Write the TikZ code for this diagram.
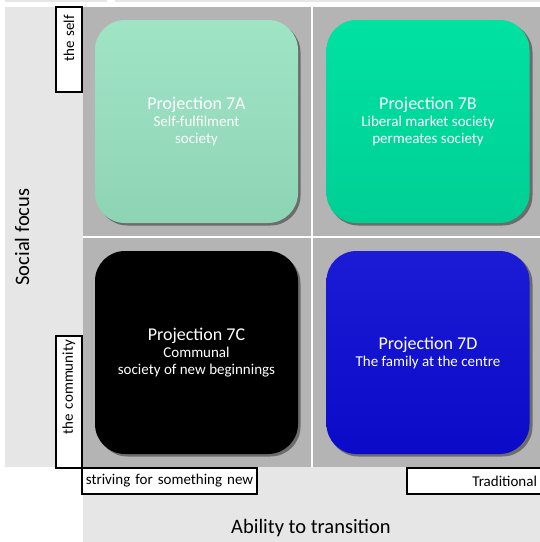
\documentclass[tikz,border=0pt]{standalone}
\usepackage{fontspec}
\setmainfont{Carlito}
\definecolor{lightg}{HTML}{E6E6E6}
\definecolor{midg}{HTML}{B4B4B4}
\definecolor{cardA}{HTML}{A0E4C6}
\definecolor{cardAb}{HTML}{8DD4B5}
\definecolor{cardB}{HTML}{00E2A2}
\definecolor{cardBb}{HTML}{00CF94}
\definecolor{cardD}{HTML}{1C1CD6}
\definecolor{cardDb}{HTML}{0A0AC8}
\newcommand{\ttlfont}{\fontsize{18}{19}\selectfont}
\newcommand{\subfont}{\fontsize{15}{17}\selectfont}
\tikzset{
  card/.style={rounded corners=30pt, minimum width=203pt, minimum height=203pt,
    align=center, text=white, inner sep=0pt, font=\subfont},
  cardshadow/.style={rounded corners=30pt, fill=black, opacity=0.4},
  lbl/.style={draw=black, line width=2pt, fill=white, inner sep=0pt,
    font=\fontsize{15}{17}\selectfont},
  axislbl/.style={font=\fontsize{20.5}{22}\selectfont, inner sep=0pt}
}
\begin{document}
\begin{tikzpicture}[x=1pt,y=-1pt]
\useasboundingbox (0,0) rectangle (540,542);
\fill[white] (0,0) rectangle (540,542);
% thin top strip
\fill[lightg] (5,0) rectangle (107,2);
\fill[lightg] (115,0) rectangle (540,2);
% panels
\fill[lightg] (5,7) rectangle (83,467);
\fill[midg] (83,7) rectangle (540,467);
\fill[lightg] (83,467) rectangle (540,542);
\draw[white, line width=1.5pt] (312,7) -- (312,467);
\draw[white, line width=1.5pt] (83,237) -- (540,237);
% shadows
\fill[cardshadow] (97.5,22.5) rectangle (300.5,225.5);
\fill[cardshadow] (328.5,22.5) rectangle (532.5,225.5);
\fill[cardshadow] (97.5,253.5) rectangle (300.5,456.5);
\fill[cardshadow] (328.5,253.5) rectangle (532.5,456.5);
% cards
\node[card, top color=cardA, bottom color=cardAb] (a) at (196.5,121.5)
  {\ttlfont Projection 7A\\\subfont Self-fulfilment\\society};
\node[card, top color=cardB, bottom color=cardBb] (b) at (428,121.5)
  {\ttlfont Projection 7B\\\subfont Liberal market society\\permeates society};
\node[card, fill=black] (c) at (196.5,352.5)
  {\ttlfont Projection 7C\\\subfont Communal\\society of new beginnings};
\node[card, top color=cardD, bottom color=cardDb] (d) at (428,352.5)
  {\ttlfont Projection 7D\\\subfont The family at the centre};
% axis labels
\node[axislbl, rotate=90] (sf) at (22,237) {Social focus};
\node[axislbl] (at) at (311,528) {Ability to transition};
% small labels
\node[lbl, rotate=90, minimum width=85pt, minimum height=26pt, text width=69pt, align=right] (self) at (69,49.5) {the self};
\node[lbl, rotate=90, minimum width=132pt, minimum height=26pt, text width=124pt, align=right] (comm) at (69,402) {the community};
\node[lbl, minimum width=175pt, minimum height=26pt, text width=172pt, align=center] (new) at (169.5,481) {striving for something new};
\node[lbl, minimum width=140pt, minimum height=26pt, text width=120pt, align=right] (trad) at (477,481) {Traditional};
\end{tikzpicture}
\end{document}
